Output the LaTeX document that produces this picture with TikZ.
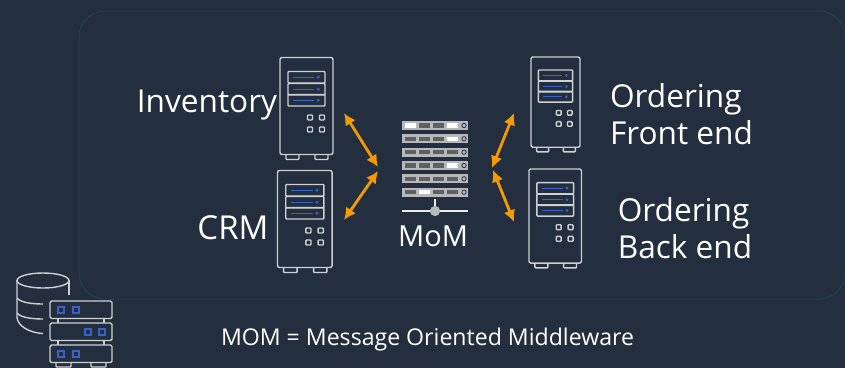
\documentclass[tikz,border=0pt]{standalone}
\usepackage{fontspec}
\usetikzlibrary{arrows.meta}
\setmainfont{Open Sans}
\definecolor{slatebg}{HTML}{232F3E}
\definecolor{framecol}{HTML}{1B4257}
\definecolor{linegray}{HTML}{CDD1D4}
\definecolor{driveblue}{HTML}{3A62C8}
\definecolor{arroworange}{HTML}{F59A00}
\tikzset{
  iconline/.style={draw=linegray, line width=1.4pt, rounded corners=0.8pt},
  drive/.style={draw=driveblue, line width=1.2pt},
  tag/.style={text=white, font=\fontsize{31.6}{37}\selectfont, inner sep=0pt, align=left},
  link/.style={draw=arroworange, line width=2.8pt, {Latex[length=12pt,width=12pt]}-{Latex[length=12pt,width=12pt]}},
  server/.pic={
    \draw[iconline, rounded corners=2pt] (0,0) rectangle (53,97);
    \foreach \ytop in {14,26,37}
      \draw[iconline] (8,\ytop) rectangle (45,\ytop+11.5);
    \foreach \ytop in {14,26,37} {
      \draw[drive] (13,\ytop+5.7) -- (34,\ytop+5.7);
      \fill[driveblue] (38.3,\ytop+5.7) circle (1.6);
    }
    \foreach \xpos/\ypos in {30/60, 42/60, 30/72, 42/72}
      \draw[iconline] (\xpos-2.5,\ypos-2.5) rectangle (\xpos+2.5,\ypos+2.5);
    \draw[iconline] (6,97) -- (6,102) -- (19,102) -- (19,97);
    \draw[iconline] (35,97) -- (35,102) -- (48,102) -- (48,97);
  }
}
\begin{document}
\begin{tikzpicture}[x=1pt,y=-1pt]
  \fill[slatebg] (0,0) rectangle (845,368);
  \useasboundingbox (0,0) rectangle (845,368);
  \draw[framecol, line width=1pt, rounded corners=26pt] (79,150) -- (79,11) -- (845,11) -- (845,299) -- (79,299) -- cycle;

  \pic (inventory) at (280,57.5) {server};
  \pic (crm) [xscale=1.03] at (277.5,170.5) {server};
  \pic (front) [xscale=0.925, yscale=0.93] at (531,57) {server};
  \pic (back) [xscale=0.99, yscale=0.97] at (529,169) {server};

  \node[tag] (inventorytag) at (207,105.5) {Inventory};
  \node[tag, font=\fontsize{33}{37}\selectfont] (crmtag) at (233,228) {CRM};
  \node[tag] (fronttag) at (681.5,114) {Ordering\\Front end};
  \node[tag] (backtag) at (685,228) {Ordering\\Back end};
  \node[tag, font=\fontsize{29}{35}\selectfont] (momtag) at (433,236) {MoM};
  \node[text=white, font=\fontsize{23.1}{28}\selectfont, inner sep=0pt] (caption) at (427.5,339.5) {MOM = Message Oriented Middleware};

  \foreach \row in {0,...,5} {
    \fill[linegray!70!gray] (402,121+\row*13.33) rectangle (468,130+\row*13.33);
    \foreach \xslot in {405,419,433,447}
      \fill[gray!75!black] (\xslot,123.3+\row*13.33) rectangle (\xslot+11,127.7+\row*13.33);
    \draw[slatebg, fill=linegray!70!gray, line width=0.8pt] (464,125.5+\row*13.33) circle (2.2);
  }
  \foreach \row/\xslot in {0/405, 0/447, 1/447, 3/447, 5/419}
    \fill[white] (\xslot,123.3+\row*13.33) rectangle (\xslot+11,127.7+\row*13.33);

  \node[circle, fill=linegray!70!gray, minimum size=10pt, inner sep=0pt] (hub) at (435,211) {};
  \coordinate (busleft) at (402,211);
  \coordinate (busright) at (468,211);
  \coordinate (stemtop) at (435,199);
  \draw[white!85!gray, line width=2pt] (busleft) -- (hub) -- (busright);
  \draw[white!85!gray, line width=2pt] (stemtop) -- (hub);
  \node[circle, fill=linegray!70!gray, minimum size=10pt, inner sep=0pt] at (hub) {};

  \coordinate (invend) at (344,113);
  \coordinate (crmend) at (344,220);
  \coordinate (frontend) at (514,113);
  \coordinate (backend) at (514,222);
  \coordinate (momlt) at (378,167);
  \coordinate (momlb) at (378,171);
  \coordinate (momrt) at (492,168);
  \coordinate (momrb) at (493,170);
  \foreach \source/\dest in {invend/momlt, crmend/momlb, frontend/momrt, backend/momrb}
    \path[link] (\source) -- (\dest);

  \draw[iconline] (69,295) -- (69,280);
  \draw[iconline] (43,280.5) ellipse (26 and 7.5);
  \draw[iconline] (17,280) -- (17,316) .. controls (17,326) and (30,333) .. (43,333.5);
  \draw[iconline] (17,298) .. controls (20,302) and (30,304) .. (43,304);
  \draw[iconline] (17,313) .. controls (20,317) and (30,319) .. (43,319);

  \foreach \ytop/\xa/\xb in {301/61/76, 323/88/102, 345/61/76} {
    \draw[iconline, rounded corners=1.5pt] (50,\ytop) rectangle (112,\ytop+17.5);
    \draw[driveblue, line width=1.3pt] (\xa-3,\ytop+6) rectangle (\xa+3,\ytop+12);
    \draw[driveblue, line width=1.3pt] (\xb-3,\ytop+6) rectangle (\xb+3,\ytop+12);
  }
  \foreach \ytop in {318.5,340.5} {
    \draw[iconline] (58,\ytop) -- (58,\ytop+4.5);
    \draw[iconline] (104,\ytop) -- (104,\ytop+4.5);
  }
  \draw[iconline] (56,362.5) -- (56,367) -- (71,367) -- (71,362.5);
  \draw[iconline] (91,362.5) -- (91,367) -- (106,367) -- (106,362.5);
\end{tikzpicture}
\end{document}
